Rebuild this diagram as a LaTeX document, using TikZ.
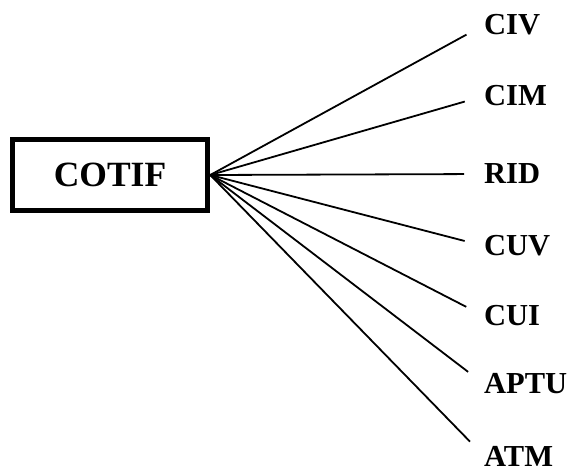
\documentclass[tikz,border=0pt]{standalone}
\usepackage{fontspec}
\setmainfont{Liberation Serif}
\usetikzlibrary{positioning}

\begin{document}
\begin{tikzpicture}[
  x=1pt, y=-1pt,
  every node/.style={font=\bfseries\fontsize{30.5}{36}\selectfont},
  branch/.style={line width=1.8pt, shorten >=20pt}
]
\useasboundingbox (0,0) rectangle (571,466);

% root box
\node[draw, line width=5.5pt, minimum width=195pt, minimum height=71pt,
      inner sep=0pt, font=\bfseries\fontsize{35.5}{40}\selectfont] (cotif) at (110,175) {COTIF};

% conventions and branches
\foreach \lbl/\yy in {CIV/25, CIM/96, RID/174, CUV/246, CUI/316, APTU/384, ATM/456} {
  \node[anchor=west, inner sep=0pt] (\lbl) at (484,\yy) {\lbl};
  \draw[branch] (cotif.east) -- (\lbl.west);
}
\end{tikzpicture}
\end{document}
